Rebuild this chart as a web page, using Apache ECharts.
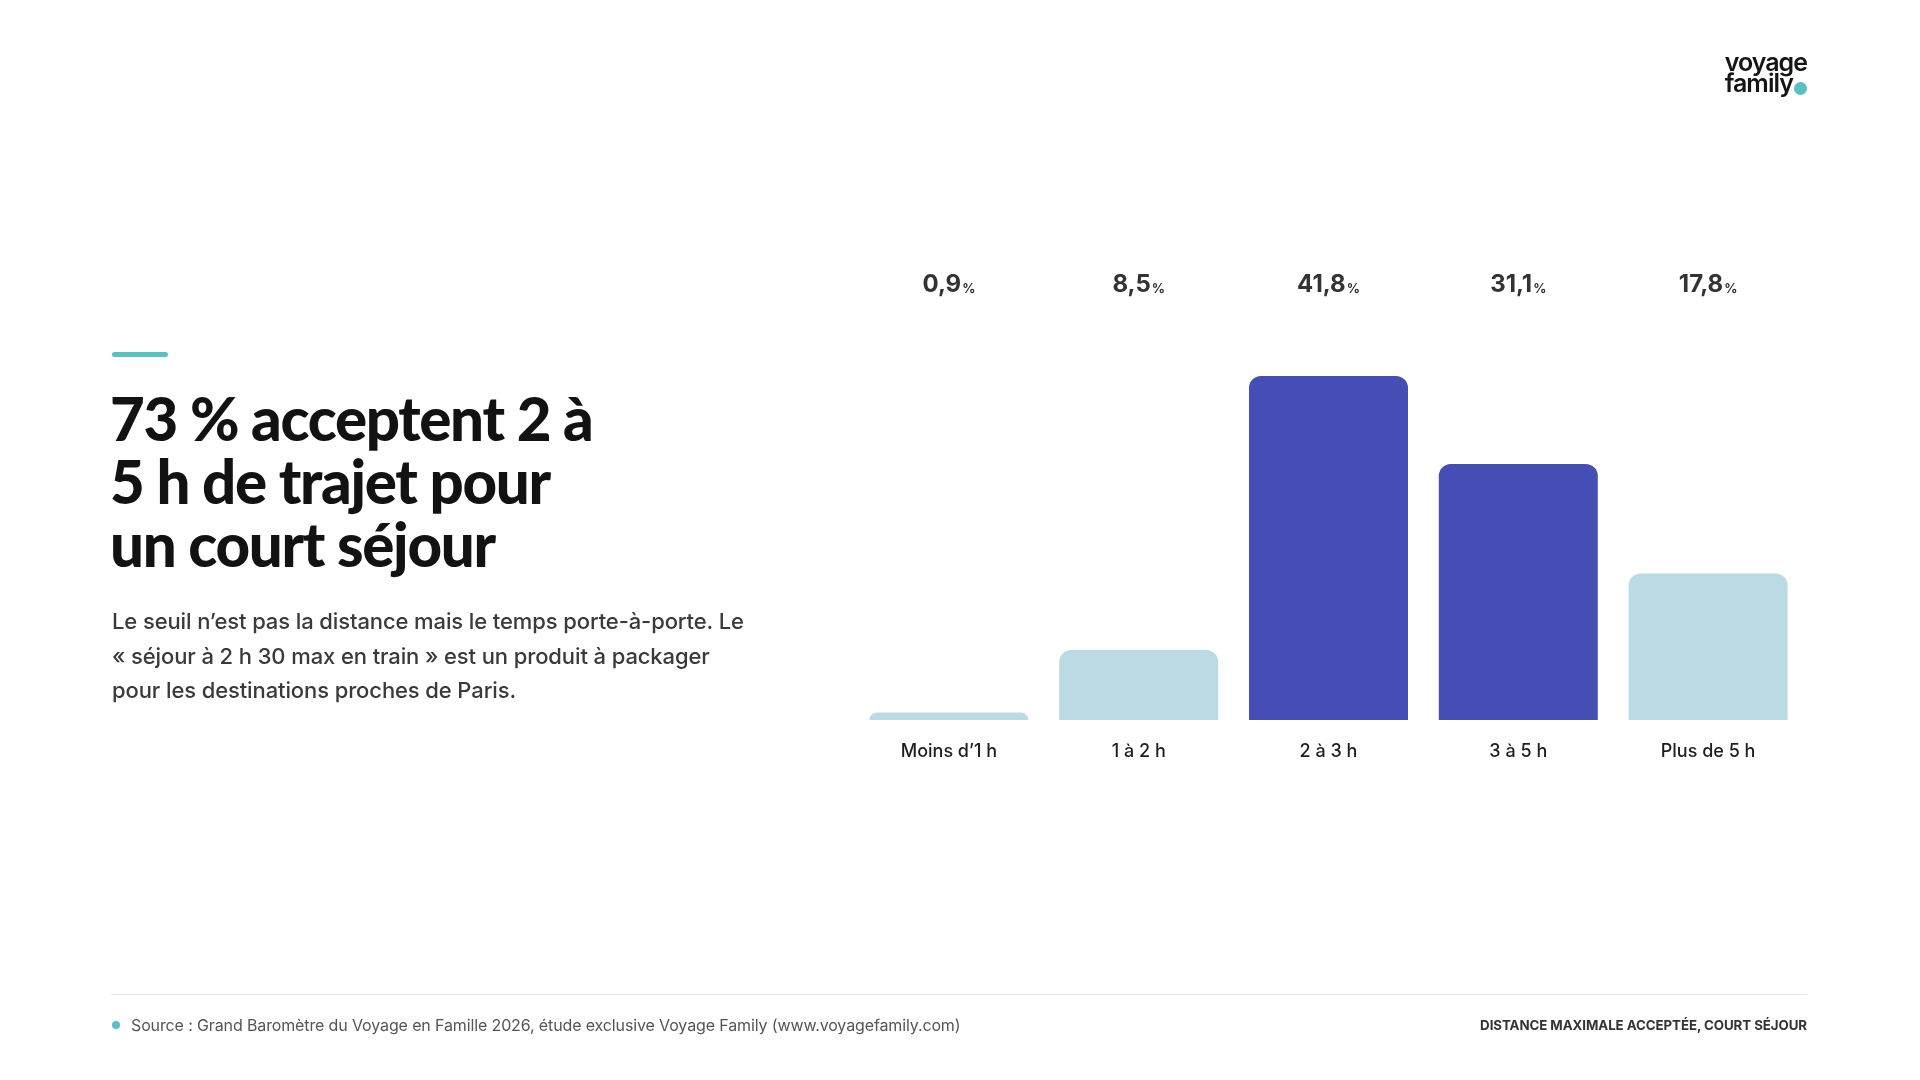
<!DOCTYPE html>
<html lang="fr"><head><meta charset="utf-8">
<script src="https://cdn.jsdelivr.net/npm/echarts@6/dist/echarts.min.js"></script>
<style>
html,body{margin:0;padding:0;background:#fff;width:1920px;height:1080px;overflow:hidden;}
#chart{position:absolute;left:0;top:0;width:1920px;height:1080px;}
.t{position:absolute;white-space:nowrap;font-family:Inter,"Noto Sans",sans-serif;}
#accent{position:absolute;left:112px;top:352px;width:56px;height:5px;border-radius:3px;background:#5bbfc6;}
#title{left:110px;top:387px;font-family:Lato,Inter,sans-serif;font-size:60px;line-height:63px;font-weight:900;color:#121212;letter-spacing:-0.022em;}
#para{left:112px;top:604px;font-size:22px;line-height:34.5px;font-weight:500;color:#3a3a3a;letter-spacing:-0.005em;}
#rule{position:absolute;left:111px;top:994px;width:1696px;height:1px;background:#e6e6e6;}
#dot{position:absolute;left:112px;top:1021px;width:8px;height:8px;border-radius:50%;background:#5bbfc6;}
#src{left:131px;top:1015px;font-size:16px;line-height:20px;color:#555;letter-spacing:-0.008em;}
#tag{right:113px;top:1016px;font-size:13.3px;line-height:18px;font-weight:700;color:#333;letter-spacing:-0.005em;}
#logo{right:113px;top:52px;font-size:25px;line-height:21px;font-weight:600;color:#151515;letter-spacing:-0.04em;text-align:left;}
#ldot{position:absolute;left:1794px;top:82px;width:13px;height:13px;border-radius:50%;background:#5bbfc6;}
</style></head>
<body>
<div id="chart"></div>
<div id="accent"></div>
<div class="t" id="title">73 % acceptent 2 à<br>5 h de trajet pour<br>un court séjour</div>
<div class="t" id="para">Le seuil n’est pas la distance mais le temps porte-à-porte. Le<br>« séjour à 2 h 30 max en train » est un produit à packager<br>pour les destinations proches de Paris.</div>
<div id="rule"></div>
<div id="dot"></div>
<div class="t" id="src">Source : Grand Baromètre du Voyage en Famille 2026, étude exclusive Voyage Family (www.voyagefamily.com)</div>
<div class="t" id="tag">DISTANCE MAXIMALE ACCEPTÉE, COURT SÉJOUR</div>
<div class="t" id="logo">voyage<br>family</div>
<div id="ldot"></div>
<script>
const categories = ['Moins d’1 h', '1 à 2 h', '2 à 3 h', '3 à 5 h', 'Plus de 5 h'];
const values = [0.9, 8.5, 41.8, 31.1, 17.8];
const highlighted = ['2 à 3 h', '3 à 5 h'];

const DARK = '#454eb4';
const LIGHT = '#bbdbe4';
const fmt = v => String(v).replace('.', ',');

const chart = echarts.init(document.getElementById('chart'), null, {renderer: 'canvas'});
chart.setOption({
  animation: false,
  grid: {left: 854, right: 117, top: 308.5, bottom: 360, containLabel: false},
  xAxis: [
    {
      type: 'category', data: categories,
      axisLine: {show: false}, axisTick: {show: false}, splitLine: {show: false},
      axisLabel: {margin: 23, fontSize: 18, fontWeight: 500, color: '#1e1e1e', fontFamily: 'Inter'}
    },
    {
      type: 'category', position: 'top', data: values.map(fmt),
      axisLine: {show: false}, axisTick: {show: false}, splitLine: {show: false},
      axisLabel: {
        margin: 12,
        formatter: v => '{v|' + v + '}{p|%}',
        rich: {
          v: {fontSize: 24, fontWeight: 700, color: '#333', fontFamily: 'Inter', lineHeight: 28, verticalAlign: 'bottom'},
          p: {fontSize: 13, fontWeight: 700, color: '#333', fontFamily: 'Inter', lineHeight: 28, verticalAlign: 'bottom', padding: [0, 0, 1, 1]}
        }
      }
    }
  ],
  yAxis: {type: 'value', min: 0, max: 50, show: false, splitLine: {show: false}},
  series: [{
    type: 'bar', xAxisIndex: 0, barWidth: 159,
    data: values.map((v, i) => ({
      value: v,
      itemStyle: {color: highlighted.includes(categories[i]) ? DARK : LIGHT}
    })),
    itemStyle: {borderRadius: [12, 12, 0, 0]}
  }]
});
</script>
</body></html>
